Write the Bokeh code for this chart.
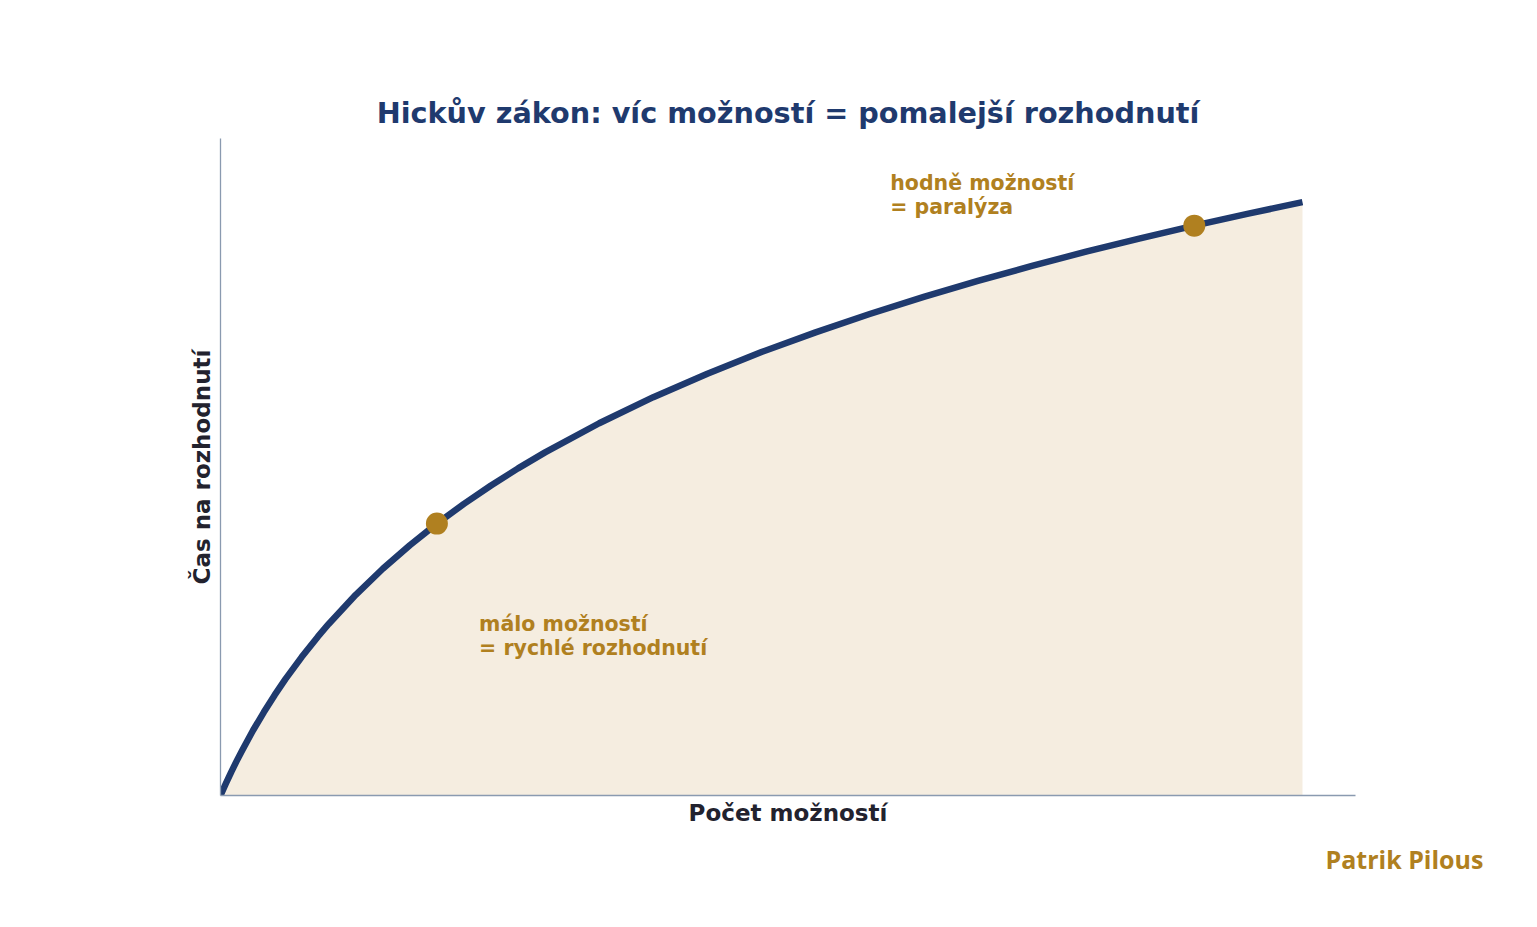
from bokeh.plotting import figure
from bokeh.models import Label, FixedTicker, Range1d, Title
from bokeh.embed import file_html
from bokeh.resources import INLINE

# počet možností (n) a čas na rozhodnutí (relativní jednotky)
options = [0, 0.025, 0.05, 0.075, 0.1, 0.15, 0.2, 0.3, 0.4, 0.5, 0.6, 0.75, 0.9, 1,
           1.25, 1.5, 1.75, 2, 2.25, 2.5, 2.75, 3, 3.5, 4, 4.5, 5, 5.5, 6, 6.5,
           7, 7.5, 8, 8.5, 9, 9.5, 10]
time = [0, 0.036, 0.070, 0.104, 0.138, 0.202, 0.263, 0.379, 0.485, 0.585, 0.678,
        0.807, 0.926, 1.0, 1.170, 1.322, 1.459, 1.585, 1.700, 1.807, 1.907, 2.0,
        2.170, 2.322, 2.459, 2.585, 2.700, 2.807, 2.907, 3.0, 3.087, 3.170, 3.248,
        3.322, 3.392, 3.459]

marker_options = [2, 9]
marker_time = [1.585, 3.322]

title_text = "Hickův zákon: víc možností = pomalejší rozhodnutí"
x_label = "Počet možností"
y_label = "Čas na rozhodnutí"
note_low = "málo možností\n= rychlé rozhodnutí"
note_high = "hodně možností\n= paralýza"
signature = "Patrik Pilous"

NAVY = "#1f3a6e"
GOLD = "#b08020"
FILL = "#f5ede0"
AXIS = "#8a9ab0"
DARK = "#22222e"

W, H = 1529, 919
p = figure(width=W, height=H, output_backend="svg", toolbar_location=None,
           x_range=Range1d(0, 10.49), y_range=Range1d(0, 3.83),
           min_border_left=220, min_border_right=174, min_border_top=138,
           min_border_bottom=124)
p.outline_line_color = None
p.grid.visible = False
p.background_fill_color = "white"
p.border_fill_color = "white"

p.title.text = title_text
p.title.align = "center"
p.title.text_font = "DejaVu Sans"
p.title.text_font_size = "28.7px"
p.title.text_font_style = "bold"
p.title.text_color = NAVY
p.title.standoff = 17

for ax in (p.xaxis[0], p.yaxis[0]):
    ax.ticker = FixedTicker(ticks=[])
    ax.axis_line_color = AXIS
    ax.axis_line_width = 1.3
    ax.major_tick_line_color = None
    ax.minor_tick_line_color = None
    ax.major_label_text_font_size = "0px"
    ax.axis_label_text_font = "DejaVu Sans"
    ax.axis_label_text_font_size = "23px"
    ax.axis_label_text_font_style = "bold"
    ax.axis_label_text_color = DARK
p.xaxis[0].axis_label = x_label
p.yaxis[0].axis_label = y_label
p.xaxis[0].axis_label_standoff = 4
p.yaxis[0].axis_label_standoff = 6

p.varea(x=options, y1=[0] * len(options), y2=time, fill_color=FILL)
p.line(options, time, line_color=NAVY, line_width=6.5, line_join="round")
p.scatter(marker_options, marker_time, size=22, fill_color=GOLD, line_color=None)

for txt, x, y in [(note_low, 2.39, 1.072), (note_high, 6.19, 3.642)]:
    p.add_layout(Label(x=x, y=y, text=txt, text_font="DejaVu Sans",
                       text_font_size="20.5px", text_font_style="bold",
                       text_color=GOLD, text_baseline="top", text_align="left",
                       text_line_height=1.0))

sig = Title(text=signature, align="left", offset=1105, standoff=22,
            text_font="Open Sans", text_font_size="25px", text_font_style="bold",
            text_color=GOLD)
p.add_layout(sig, "below")

open("out.html", "w").write(file_html(p, INLINE))
